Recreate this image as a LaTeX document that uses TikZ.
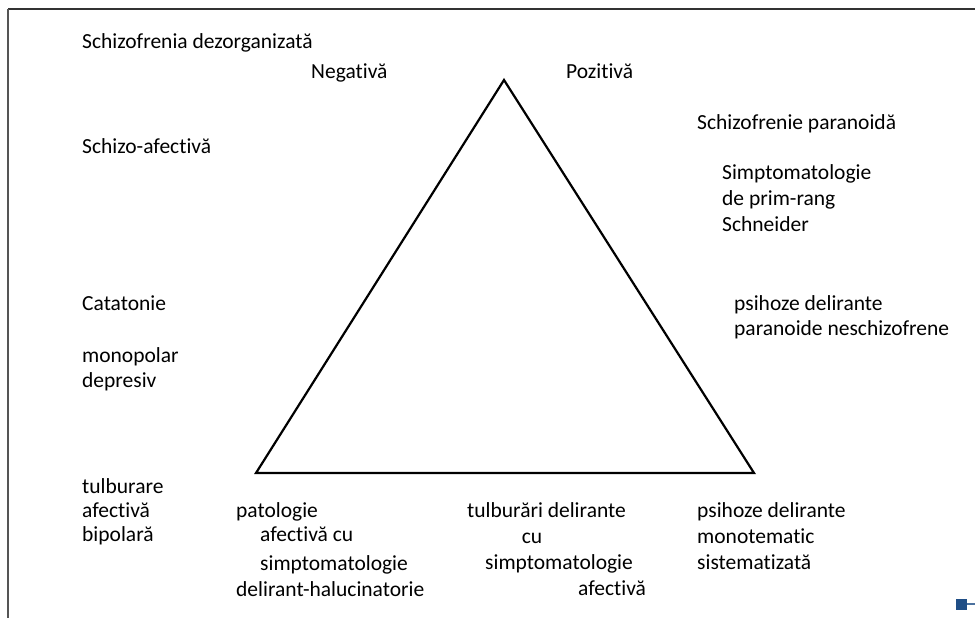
\documentclass[tikz,border=0pt]{standalone}
\usepackage{fontspec}
\setmainfont[Ligatures=NoCommon]{Carlito}
\definecolor{frameblk}{HTML}{333333}
\definecolor{framegray}{HTML}{555555}
\definecolor{markblue}{HTML}{1F4E86}
\begin{document}
\begin{tikzpicture}[x=1pt,y=-1pt,
  lbl/.style={anchor=base west, inner sep=0pt, font=\fontsize{21.5}{26}\selectfont},
  lblc/.style={anchor=base, inner sep=0pt, font=\fontsize{21.5}{26}\selectfont},
  tri/.style={line width=2.2pt, line join=miter, black}]
\useasboundingbox (0,0) rectangle (975,618);
% frame
\coordinate (fTL) at (8,9);
\coordinate (fTR) at (975,9);
\coordinate (fBL) at (8,618);
\draw[frameblk, line width=1.6pt] (fTL) -- (fTR);
\draw[framegray, line width=2pt] (fTL) -- (fBL);
% small blue mark
\fill[markblue] (956,599) rectangle (967,610);
\coordinate (mA) at (967,604);
\coordinate (mB) at (975,604);
\draw[markblue!80, line width=2pt] (mA) -- (mB);
% triangle
\coordinate (apex) at (504,80);
\coordinate (bl) at (256,473);
\coordinate (br) at (754,473);
\draw[tri] (apex) -- (bl) -- (br) -- cycle;
% labels
\node[lbl] (sd) at (82,49) {Schizofrenia dezorganizată};
\node[lbl] (neg) at (311,78) {Negativă};
\node[lbl] (poz) at (566,78) {Pozitivă};
\node[lbl] (sa) at (82,153) {Schizo-afectivă};
\node[lbl] (sp) at (697,129) {Schizofrenie paranoidă};
\node[lbl] (s1) at (722,179) {Simptomatologie};
\node[lbl] (s2) at (722,205) {de prim-rang};
\node[lbl] (s3) at (722,231) {Schneider};
\node[lbl] (cat) at (82,310) {Catatonie};
\node[lbl] (pd1) at (734,310) {psihoze delirante};
\node[lbl] (pd2) at (734,335) {paranoide neschizofrene};
\node[lbl] (mo1) at (82,362) {monopolar};
\node[lbl] (mo2) at (82,387) {depresiv};
\node[lbl] (tb1) at (82,493) {tulburare};
\node[lbl] (tb2) at (82,517) {afectivă};
\node[lbl] (tb3) at (82,541) {bipolară};
\node[lbl] (pa1) at (236,517) {patologie};
\node[lbl] (pa2) at (260,541) {afectivă cu};
\node[lbl] (pa3) at (260,570) {simptomatologie};
\node[lbl] (pa4) at (236,596) {delirant-halucinatorie};
\node[lbl] (td1) at (467,517) {tulburări delirante};
\node[lblc] (td2) at (532,543) {cu};
\node[lbl] (td3) at (485,569) {simptomatologie};
\node[lbl] (td4) at (578,595) {afectivă};
\node[lbl] (ps1) at (697,517) {psihoze delirante};
\node[lbl] (ps2) at (697,543) {monotematic};
\node[lbl] (ps3) at (697,569) {sistematizată};
\end{tikzpicture}
\end{document}
